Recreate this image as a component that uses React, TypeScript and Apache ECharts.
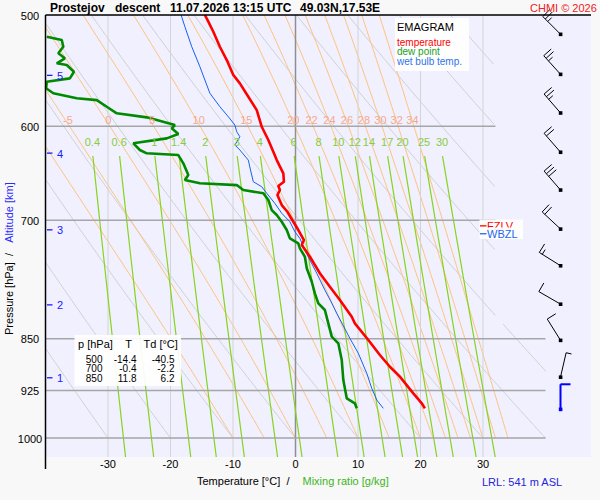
import React, { useEffect, useRef } from "react";
import * as echarts from "echarts";

const FONT = '"Liberation Sans", Arial, Helvetica, sans-serif';

// ---------- axes ----------
const P_TOP = 500;
const P_BOTTOM = 1031.6;
const T_MIN = -40;
const T_MAX = 40;
const pressureLevels = [500, 600, 700, 850, 925, 1000];
const isotherms = [-30, -20, -10, 0, 10, 20, 30];

// ---------- sounding (hPa, °C) ----------
const tempP = [500, 505.5, 513.9, 526.7, 538.3, 551.7, 559.3, 571.7, 584.3, 600.5, 613.7, 625.6, 634.2, 648.1, 657.1, 661.7, 666.1, 671.5, 682.7, 690.2, 701.6, 711.2, 723, 728.9, 743, 763.4, 780.5, 797.6, 819.7, 828.7, 851.6, 872.8, 889.8, 904.4, 929.4, 944.7, 952.5];
const tempT = [-14.5, -13.95, -13.15, -12.1, -11.0, -9.95, -8.9, -7.55, -6.2, -5.4, -4.35, -3.55, -3.0, -1.95, -1.85, -2.75, -2.5, -2.9, -2.2, -1.3, -0.35, 0.45, 1.35, 1.0, 2.3, 3.9, 5.5, 7.1, 9.0, 9.5, 11.65, 13.5, 15.1, 16.7, 18.85, 20.2, 20.7];

const dewP = [518.1, 520.9, 526.7, 532.4, 536.8, 541.2, 542.7, 548.7, 554.7, 557.8, 563.8, 568.4, 573.1, 574.8, 581.1, 587.4, 591.3, 596.5, 598.8, 602.0, 607.7, 612.0, 617.0, 623.8, 627.2, 629.0, 637.6, 649.9, 655.2, 658.8, 660.7, 666.1, 669.7, 677.1, 688.3, 693.9, 701.6, 711.2, 721, 726.9, 732.9, 743, 757.2, 774.1, 788.9, 802, 810.8, 847, 856.3, 880, 909.4, 937, 944.7, 952.5];
const dewT = [-39.8, -37.4, -37.15, -37.95, -36.9, -38.2, -36.6, -35.45, -36.1, -39.8, -39.9, -38.75, -35.0, -31.8, -30.2, -28.6, -23.8, -20.6, -19.3, -19.8, -18.75, -20.6, -25.95, -24.9, -23.8, -18.75, -17.95, -17.15, -17.7, -15.3, -9.4, -8.35, -5.15, -4.35, -3.8, -3.0, -2.2, -1.4, -0.9, 0.45, 0.7, 1.5, 1.8, 2.6, 3.1, 3.65, 4.7, 5.8, 6.85, 7.4, 7.65, 8.2, 9.5, 9.8];

const wetP = [500, 509.7, 526.7, 544.2, 556.2, 568.4, 581.1, 590.7, 598.8, 605.4, 610.4, 618.7, 623.8, 634.2, 644.6, 657.1, 662.5, 669.7, 680.8, 692, 701.6, 713.2, 721, 734.9, 747, 763.4, 784.7, 800, 815.2, 849.3, 870.4, 899.4, 921.8, 939.6, 952.5];
const wetT = [-18.3, -17.7, -16.6, -15.3, -14.5, -13.7, -12.1, -10.75, -9.7, -9.4, -8.9, -9.7, -8.9, -7.55, -7.2, -6.75, -5.4, -4.6, -3.3, -2.2, -0.9, -0.1, 0.7, 1.5, 2.3, 3.4, 4.7, 5.7, 6.6, 8.7, 10.05, 11.4, 12.2, 13.0, 14.05];

// ---------- wind ----------
const windP = [516, 551, 587, 626, 666, 710, 754, 803, 852, 905, 954];
const windDir = [315, 318, 319, 319, 319, 313, 302, 300, 328, 13, 0];
const windSpd = [25, 25, 25, 20, 30, 20, 15, 10, 10, 5, 10];
const windSurface = [0, 0, 0, 0, 0, 0, 0, 0, 0, 0, 1];

// ---------- altitude scale ----------
const altKm = [1, 2, 3, 4, 5];
const altP = [906, 804, 711, 627, 552];

// ---------- table ----------
const tableP = [500, 700, 850];
const tableT = ["-14.4", "-0.4", "11.8"];
const tableTd = ["-40.5", "-2.2", "6.2"];

// ---------- levels ----------
const fzlvP = 706;
const wbzlP = 714;
const lrlText = "LRL: 541 m ASL";

// ---------- diagram lines ----------
const dryTheta = [-30, -20, -10, 0, 10, 20, 30, 40, 50, 60, 70, 80, 90];
const moistThetaW = [-10, -5, 0, 5, 10, 15, 20, 22, 24, 26, 28, 30, 32, 34];
const moistLabels = [-5, 0, 5, 10, 15, 20, 22, 24, 26, 28, 30, 32, 34];
const mixingRatios = [0.4, 0.6, 1, 1.4, 2, 3, 4, 6, 8, 10, 12, 14, 17, 20, 25, 30];

// ---------- thermodynamics ----------
const Rd = 287.04, Cp = 1005.7, Lv = 2.501e6, EPS = 0.622;
const es = (tc: number) => 6.112 * Math.exp((17.67 * tc) / (tc + 243.5));
function moistSlope(p: number, T: number) {
  const e = es(T - 273.15);
  const rs = (EPS * e) / (p - e);
  return (Rd * T + Lv * rs) / (p * (Cp + (Lv * Lv * rs * EPS) / (Rd * T * T)));
}
function pseudoAdiabat(tw: number): number[][] {
  const pts: number[][] = [[tw, 1000]];
  let T = tw + 273.15;
  let p = 1000;
  const h = -2;
  while (p > 500 + 1e-6) {
    const k1 = moistSlope(p, T);
    const k2 = moistSlope(p + h / 2, T + (h / 2) * k1);
    const k3 = moistSlope(p + h / 2, T + (h / 2) * k2);
    const k4 = moistSlope(p + h, T + h * k3);
    T += (h / 6) * (k1 + 2 * k2 + 2 * k3 + k4);
    p += h;
    pts.push([T - 273.15, p]);
  }
  return pts;
}
function dewFromMixing(w: number, p: number) {
  const e = ((w / 1000) * p) / (EPS + w / 1000);
  const l = Math.log(e / 6.112);
  return (243.5 * l) / (17.67 - l);
}
function dryAdiabatSegments(th: number): number[][][] {
  const segs: number[][][] = [];
  let cur: number[][] = [];
  for (let p = 1000; p >= 500 - 1e-6; p -= 2) {
    const t = (th + 273.15) * Math.pow(p / 1000, 0.2857) - 273.15;
    const hidden = p < 830 && t > 32;
    if (hidden) {
      if (cur.length > 1) segs.push(cur);
      cur = [];
    } else cur.push([t, p]);
  }
  if (cur.length > 1) segs.push(cur);
  return segs;
}

const lnp = (p: number) => Math.log(p);

function lineSeries(pts: number[][], color: string, width: number, z: number) {
  return {
    type: "line",
    data: pts.map(([t, p]) => [t, lnp(p)]),
    symbol: "none",
    showSymbol: false,
    silent: true,
    clip: true,
    z,
    lineStyle: { color, width },
    emphasis: { disabled: true },
    animation: false,
  };
}

function txt(text: string, x: number, y: number, font: string, fill: string, align = "left", extra: any = {}) {
  return {
    type: "text",
    x,
    y,
    z: 100,
    silent: true,
    ...extra,
    style: {
      text,
      font,
      fill,
      align,
      textAlign: align,
      verticalAlign: "middle",
      textVerticalAlign: "middle",
    },
  };
}

function buildOption() {
  const series: any[] = [];

  dryTheta.forEach((th) => {
    dryAdiabatSegments(th).forEach((seg) => series.push(lineSeries(seg, "#cfcfcf", 1, 1)));
  });
  const moistPts: Record<number, number[][]> = {};
  moistThetaW.forEach((tw) => {
    const pts = pseudoAdiabat(tw);
    moistPts[tw] = pts;
    series.push(lineSeries(pts, "#ffc07a", 1, 1));
  });
  isotherms.forEach((t) => {
    series.push(
      lineSeries([[t, P_TOP], [t, P_BOTTOM]], t === 0 ? "#8f8f8f" : "#d4d4d4", t === 0 ? 1.5 : 1, 1)
    );
  });
  mixingRatios.forEach((w) => {
    const pts: number[][] = [];
    for (let p = 630; p <= P_BOTTOM; p += 10) pts.push([dewFromMixing(w, p), p]);
    pts.push([dewFromMixing(w, P_BOTTOM), P_BOTTOM]);
    series.push(lineSeries(pts, "#86d41c", 1.2, 2));
  });
  pressureLevels
    .filter((p) => p !== P_TOP)
    .forEach((p) => {
      series.push(lineSeries([[T_MIN, p], [p < 830 ? 32 : T_MAX, p]], "#a6a6a6", 1.5, 2));
    });

  // profiles
  series.push(lineSeries(wetP.map((p, i) => [wetT[i], p]), "#1560f0", 1, 5));
  series.push(lineSeries(dewP.map((p, i) => [dewT[i], p]), "#008a00", 2.6, 5));
  series.push(lineSeries(tempP.map((p, i) => [tempT[i], p]), "#ff0000", 2.6, 5));

  // pressure labels
  series.push({
    type: "custom",
    silent: true,
    clip: false,
    z: 6,
    data: pressureLevels.map((p) => [T_MIN, lnp(p), p]),
    renderItem: (_: any, api: any) => {
      const c = api.coord([api.value(0), api.value(1)]);
      return {
        type: "text",
        x: c[0] - 15.5,
        y: c[1] + 0.5,
        style: { text: String(api.value(2)), font: `11px ${FONT}`, fill: "#000", align: "center", textAlign: "center", verticalAlign: "middle", textVerticalAlign: "middle" },
      };
    },
  });

  // altitude ticks
  series.push({
    type: "custom",
    silent: true,
    clip: false,
    z: 6,
    data: altKm.map((k, i) => [T_MIN, lnp(altP[i]), k]),
    renderItem: (_: any, api: any) => {
      const c = api.coord([api.value(0), api.value(1)]);
      return {
        type: "group",
        children: [
          { type: "line", shape: { x1: c[0] + 1.5, y1: c[1], x2: c[0] + 7, y2: c[1] }, style: { stroke: "#1a1aff", lineWidth: 1.3 } },
          {
            type: "text",
            x: c[0] + 11.5,
            y: c[1] + 0.5,
            style: { text: String(api.value(2)), font: `11px ${FONT}`, fill: "#1a1aff", align: "left", textAlign: "left", verticalAlign: "middle", textVerticalAlign: "middle" },
          },
        ],
      };
    },
  });

  // mixing ratio labels
  series.push({
    type: "custom",
    silent: true,
    clip: false,
    z: 6,
    data: mixingRatios.map((w) => [dewFromMixing(w, 630), lnp(616), w]),
    renderItem: (_: any, api: any) => {
      const c = api.coord([api.value(0), api.value(1)]);
      return {
        type: "text",
        x: c[0] - 0.5,
        y: c[1],
        style: { text: String(api.value(2)), font: `11px ${FONT}`, fill: "#8acb3c", align: "center", textAlign: "center", verticalAlign: "middle", textVerticalAlign: "middle" },
      };
    },
  });

  // pseudo-adiabat labels
  series.push({
    type: "custom",
    silent: true,
    clip: false,
    z: 6,
    data: moistLabels.map((tw) => {
      const pt = moistPts[tw].find((q) => Math.abs(q[1] - 600) < 1e-6) as number[];
      return [pt[0], lnp(594), tw];
    }),
    renderItem: (_: any, api: any) => {
      const c = api.coord([api.value(0), api.value(1)]);
      return {
        type: "text",
        x: c[0] - 1.5,
        y: c[1],
        style: { text: String(api.value(2)), font: `11px ${FONT}`, fill: "#f6a88e", align: "center", textAlign: "center", verticalAlign: "middle", textVerticalAlign: "middle" },
      };
    },
  });

  // FZLV / WBZL
  series.push({
    type: "custom",
    silent: true,
    clip: false,
    z: 8,
    data: [
      [30, lnp(fzlvP), 0, lnp(fzlvP)],
      [30, lnp(wbzlP), 1, lnp(fzlvP)],
    ],
    renderItem: (_: any, api: any) => {
      const kind = api.value(2);
      const c = api.coord([api.value(0), api.value(1)]);
      const cf = api.coord([api.value(0), api.value(3)]);
      const yc = kind === 0 ? cf[1] + 0.8 : Math.max(c[1], cf[1] + 8.7);
      const x0 = c[0] - 3.5;
      const col = kind === 0 ? "#ff0000" : "#2266ee";
      return {
        type: "group",
        children: [
          { type: "rect", shape: { x: x0, y: yc - 6.8, width: 43.5, height: 11.5 }, style: { fill: "rgba(255,255,255,0.92)" } },
          { type: "line", shape: { x1: x0 + 0.5, y1: yc - 0.5, x2: x0 + 7, y2: yc - 0.5 }, style: { stroke: col, lineWidth: 1.3 } },
          {
            type: "text",
            x: x0 + 7.5,
            y: yc,
            style: { text: kind === 0 ? "FZLV" : "WBZL", font: `11px ${FONT}`, fill: col, align: "left", textAlign: "left", verticalAlign: "middle", textVerticalAlign: "middle" },
          },
        ],
      };
    },
  });

  // wind barbs
  series.push({
    type: "custom",
    silent: true,
    clip: false,
    z: 7,
    data: windP.map((p, i) => [T_MAX, lnp(p), windDir[i], windSpd[i], windSurface[i]]),
    renderItem: (_: any, api: any) => {
      const c = api.coord([api.value(0), api.value(1)]);
      const x0 = c[0] + 15, y0 = c[1];
      const dir = (api.value(2) * Math.PI) / 180;
      const spd = api.value(3);
      const surf = api.value(4);
      const color = surf ? "#0000ff" : "#000000";
      const lw = surf ? 2 : 1;
      const dx = Math.sin(dir), dy = -Math.cos(dir);
      const L = 25;
      const tx = x0 + dx * L, ty = y0 + dy * L;
      const fx = -dy, fy = dx;
      const children: any[] = [
        { type: "line", shape: { x1: x0, y1: y0, x2: tx, y2: ty }, style: { stroke: color, lineWidth: lw } },
        { type: "rect", shape: { x: x0 - 1.7, y: y0 - 1.7, width: 3.6, height: 3.6 }, style: { fill: color } },
      ];
      let rem = spd, pos = 0;
      while (rem >= 10) {
        const px = tx - dx * pos, py = ty - dy * pos;
        children.push({ type: "line", shape: { x1: px, y1: py, x2: px + fx * 10, y2: py + fy * 10 }, style: { stroke: color, lineWidth: lw } });
        pos += 3.5;
        rem -= 10;
      }
      if (rem >= 5) {
        const px = tx - dx * pos, py = ty - dy * pos;
        children.push({ type: "line", shape: { x1: px, y1: py, x2: px + fx * 5.5, y2: py + fy * 5.5 }, style: { stroke: color, lineWidth: lw } });
      }
      return { type: "group", children };
    },
  });

  const graphic: any[] = [
    { type: "rect", z: -10, silent: true, shape: { x: 45.5, y: 15, width: 545.5, height: 442 }, style: { fill: "#f0f0fe" } },
    { type: "line", z: 100, silent: true, shape: { x1: 45.5, y1: 15, x2: 591, y2: 15 }, style: { stroke: "#000", lineWidth: 1.5 } },
    { type: "line", z: 100, silent: true, shape: { x1: 45.5, y1: 15, x2: 45.5, y2: 469 }, style: { stroke: "#000", lineWidth: 1.5 } },
    // title
    txt("Prostejov", 50, 7.5, `bold 12px ${FONT}`, "#000"),
    txt("descent", 115, 7.5, `bold 12px ${FONT}`, "#000"),
    txt("11.07.2026 13:15 UTC", 170, 7.5, `bold 12px ${FONT}`, "#000"),
    txt("49.03N,17.53E", 300, 7.5, `bold 12px ${FONT}`, "#000"),
    txt("CHMI © 2026", 530, 7.5, `11px ${FONT}`, "#ee2222"),
    // legend box
    { type: "rect", z: 90, silent: true, shape: { x: 395, y: 18, width: 74, height: 53 }, style: { fill: "rgba(255,255,255,0.92)" } },
    txt("EMAGRAM", 397, 26.5, `11px ${FONT}`, "#000"),
    txt("temperature", 397, 42, `10px ${FONT}`, "#ff0000"),
    txt("dew point", 397, 51.8, `10px ${FONT}`, "#22a022"),
    txt("wet bulb temp.", 397, 61.6, `10px ${FONT}`, "#2f74ea"),
    // table box
    { type: "rect", z: 90, silent: true, shape: { x: 74.5, y: 335, width: 106.5, height: 51 }, style: { fill: "rgba(255,255,255,0.92)" } },
    txt("p [hPa]", 78, 343.5, `11px ${FONT}`, "#000"),
    txt("T", 128.7, 343.5, `11px ${FONT}`, "#000", "center"),
    txt("Td [°C]", 143.5, 343.5, `11px ${FONT}`, "#000"),
    // axis titles
    txt("Temperature [°C]  /", 197, 480.5, `11px ${FONT}`, "#000"),
    txt("Mixing ratio [g/kg]", 302.5, 480.5, `11px ${FONT}`, "#3cb521"),
    txt(lrlText, 482, 481.5, `11px ${FONT}`, "#2424dd"),
    txt("Altitude [km]", 8.5, 212.5, `11px ${FONT}`, "#2b2bff", "center", { rotation: Math.PI / 2 }),
    txt("Pressure [hPa]  /", 8.5, 294, `11px ${FONT}`, "#000", "center", { rotation: Math.PI / 2 }),
  ];
  tableP.forEach((p, i) => {
    const y = 359 + i * 9.9;
    graphic.push(txt(String(p), 102.5, y, `10px ${FONT}`, "#000", "right"));
    graphic.push(txt(tableT[i], 136.5, y, `10px ${FONT}`, "#000", "right"));
    graphic.push(txt(tableTd[i], 174.5, y, `10px ${FONT}`, "#000", "right"));
  });

  return {
    animation: false,
    backgroundColor: "#f8f8f8",
    grid: { left: 45.5, top: 15, width: 500, height: 442, show: false, containLabel: false },
    xAxis: {
      type: "value",
      min: T_MIN,
      max: T_MAX,
      interval: 10,
      axisLine: { show: false },
      axisTick: { show: false },
      splitLine: { show: false },
      axisLabel: {
        fontSize: 11,
        fontFamily: FONT,
        color: "#000",
        margin: 1,
        formatter: (v: number) => (Math.abs(v) >= 40 ? "" : String(v)),
      },
    },
    yAxis: {
      type: "value",
      inverse: true,
      min: lnp(P_TOP),
      max: lnp(P_BOTTOM),
      axisLine: { show: false },
      axisTick: { show: false },
      axisLabel: { show: false },
      splitLine: { show: false },
    },
    graphic,
    series,
  };
}

export default function App() {
  const ref = useRef<HTMLDivElement>(null);
  useEffect(() => {
    if (!ref.current) return;
    const chart = echarts.init(ref.current, undefined, { renderer: "svg" });
    chart.setOption(buildOption() as any);
    return () => chart.dispose();
  }, []);
  return <div ref={ref} style={{ position: "absolute", left: 0, top: 0, width: 600, height: 500 }} />;
}
